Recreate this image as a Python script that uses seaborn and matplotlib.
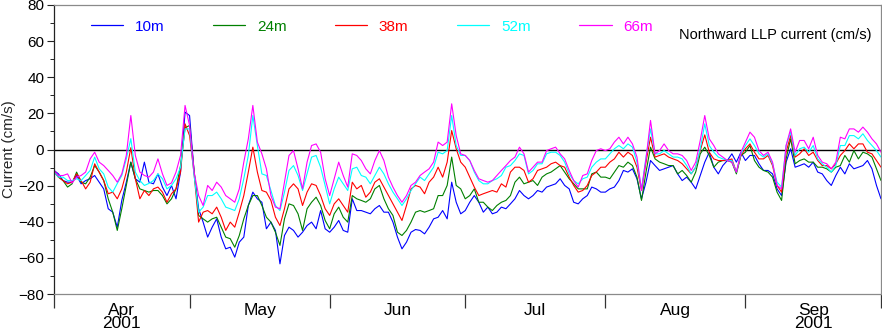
import numpy as np
import pandas as pd
import matplotlib
matplotlib.use("Agg")
import matplotlib.pyplot as plt
import matplotlib.dates as mdates
from matplotlib.ticker import MultipleLocator, FixedLocator, NullFormatter, FixedFormatter
import seaborn as sns

# Daily low-passed northward current (cm/s), 1 Apr 2001 .. 1 Oct 2001
dates = pd.date_range("2001-04-01", "2001-10-01", freq="D")

v10 = [
    # Apr
    -11.6, -13.5, -17.2, -18.1, -18.1, -14.4, -19.0, -17.2, -16.2, -14.4,
    -18.1, -21.8, -32.8, -34.7, -43.0, -28.2, -18.1, -7.0, -16.2, -18.1,
    -7.0, -18.1, -19.0, -13.5, -20.8, -25.5, -19.9, -27.3, -12.5, 20.7,
    # May
    18.8, -12.5, -32.8, -40.2, -48.5, -43.0, -38.4, -48.5, -55.0, -54.1,
    -59.6, -51.3, -48.5, -31.0, -23.6, -27.3, -29.2, -43.9, -40.2, -44.8,
    -63.3, -47.6, -43.0, -44.8, -48.5, -45.8, -42.1, -40.2, -43.9, -33.8, -43.9,
    # Jun
    -45.8, -43.0, -39.3, -44.8, -45.8, -27.3, -33.8, -33.8, -34.7, -35.6,
    -32.8, -31.0, -34.7, -34.7, -40.2, -48.5, -55.0, -51.3, -45.8, -44.3,
    -44.8, -46.7, -43.0, -38.4, -37.5, -33.8, -38.4, -18.1, -29.2, -35.6,
    # Jul
    -33.8, -29.2, -25.5, -29.2, -34.7, -31.9, -35.6, -34.7, -31.9, -32.8,
    -30.1, -27.3, -22.7, -25.5, -27.3, -25.5, -22.7, -23.6, -20.8, -19.9,
    -19.0, -16.2, -19.9, -21.8, -29.2, -30.1, -27.3, -25.5, -20.8, -21.8, -23.6,
    # Aug
    -23.6, -21.8, -20.8, -17.2, -11.6, -12.5, -10.7, -16.2, -27.3, -18.1,
    -6.1, -8.9, -11.6, -10.7, -9.8, -8.9, -13.5, -17.2, -15.3, -18.1,
    -21.8, -14.4, -7.0, -1.5, -9.8, -13.5, -8.9, -6.1, -2.4, -7.0, -1.5,
    # Sep + 1 Oct
    -6.1, -3.3, -3.3, -7.9, -11.6, -11.6, -13.5, -21.8, -25.5, -7.0,
    0.4, -9.8, -8.9, -7.9, -9.8, -7.0, -12.5, -13.5, -17.2, -19.9,
    -14.4, -9.8, -13.5, -7.9, -10.7, -9.8, -8.9, -6.1, -10.7, -19.9, -27.3,
]

v24 = [
    -11.6, -15.3, -17.2, -20.8, -19.0, -12.5, -18.1, -19.0, -15.3, -8.9,
    -12.5, -17.2, -27.3, -34.7, -44.8, -32.8, -19.9, -7.0, -16.2, -21.8,
    -22.7, -23.6, -22.7, -22.7, -25.5, -30.1, -27.3, -21.8, -8.9, 12.0,
    13.3, -11.6, -36.5, -38.4, -40.2, -38.4, -37.5, -43.0, -48.5, -49.4,
    -54.1, -47.6, -38.4, -31.0, -25.5, -25.5, -31.0, -37.5, -40.2, -45.8,
    -53.1, -38.4, -30.1, -31.0, -35.6, -44.8, -32.8, -29.2, -26.4, -31.0, -39.3,
    -43.9, -35.6, -31.9, -37.5, -40.2, -25.5, -27.3, -28.2, -29.2, -27.3,
    -21.8, -19.9, -27.3, -32.8, -36.5, -45.8, -47.6, -44.8, -40.2, -34.7,
    -33.8, -34.7, -33.8, -32.8, -25.5, -25.5, -19.9, -4.2, -19.9, -21.8,
    -27.3, -25.5, -21.8, -29.2, -29.2, -31.9, -33.8, -31.0, -29.2, -28.2,
    -25.5, -18.1, -15.3, -19.0, -18.1, -17.2, -19.9, -15.3, -13.5, -12.5,
    -10.7, -8.9, -12.5, -16.2, -19.0, -21.8, -21.8, -21.8, -13.5, -12.5, -15.3,
    -15.3, -16.2, -12.5, -8.9, -9.8, -7.0, -8.9, -15.3, -28.2, -12.5,
    1.3, -5.2, -7.0, -7.9, -8.9, -8.9, -13.5, -11.6, -14.4, -18.1,
    -12.5, -2.4, 1.3, -3.3, -9.8, -7.0, -6.1, -6.1, -7.0, -13.5, -3.3,
    -1.5, 2.2, -6.1, -9.8, -11.6, -12.5, -15.3, -23.6, -28.2, -5.2,
    5.9, -7.9, -6.1, -5.2, -7.0, -7.0, -9.8, -9.8, -10.7, -12.5,
    -9.8, -8.9, -3.3, -7.0, -0.6, -5.2, -1.5, -2.4, -4.2, -10.7, -17.2,
]

v38 = [
    -12.5, -15.3, -17.2, -19.0, -18.1, -13.5, -17.2, -21.8, -18.1, -7.9,
    -12.5, -17.2, -24.5, -23.6, -27.3, -21.8, -12.5, 1.0, -16.2, -27.3,
    -22.7, -25.5, -21.8, -20.8, -23.6, -29.2, -24.5, -21.8, -12.5, 14.2,
    7.7, -13.5, -40.2, -34.7, -33.8, -35.6, -31.9, -37.5, -44.8, -40.2,
    -43.0, -34.7, -25.5, -12.5, 1.3, -12.5, -22.7, -23.6, -28.2, -37.5,
    -42.1, -32.8, -21.8, -19.0, -21.8, -31.0, -23.6, -19.0, -19.9, -25.5, -32.8,
    -36.5, -30.1, -27.3, -31.0, -34.7, -18.1, -21.8, -19.9, -26.4, -23.6,
    -18.1, -16.2, -20.8, -25.5, -30.1, -34.7, -39.3, -31.0, -21.8, -19.9,
    -20.8, -24.5, -18.1, -15.3, -9.8, -15.3, -7.0, 10.5, 0.4, -7.0,
    -9.8, -15.3, -20.8, -25.5, -24.5, -23.6, -22.7, -23.6, -19.0, -20.8,
    -12.5, -9.8, -9.8, -11.6, -18.1, -16.2, -11.6, -10.7, -9.8, -7.9,
    -7.0, -8.9, -9.8, -15.3, -19.9, -23.6, -22.7, -19.9, -14.4, -12.5, -9.8,
    -9.8, -7.0, -5.2, -1.5, -4.2, -1.5, -3.3, -9.8, -22.7, -7.0,
    6.8, -4.2, -3.3, -2.4, -4.2, -5.2, -6.1, -7.9, -10.7, -13.5,
    -9.8, -0.6, 8.1, -1.5, -5.2, -6.1, -6.1, -6.1, -5.2, -12.5, -3.3,
    0.4, 3.1, -1.5, -5.2, -5.2, -3.3, -8.9, -19.9, -23.6, -1.5,
    7.7, -4.2, -2.4, 0.4, -3.3, -1.5, -6.1, -8.9, -8.9, -10.7,
    -7.9, -3.3, -0.6, 3.1, 0.4, 3.1, 3.1, -1.5, -2.4, -6.1, -9.8,
]

v52 = [
    -12.5, -15.3, -15.3, -17.2, -17.2, -16.2, -17.2, -14.4, -11.6, -4.2,
    -10.7, -13.5, -20.8, -23.6, -18.8, -14.4, -5.2, 6.0, -12.5, -17.2,
    -19.9, -18.8, -17.2, -13.5, -16.2, -21.8, -19.9, -16.2, -9.8, 11.4,
    11.4, -14.4, -34.7, -31.9, -25.5, -25.5, -23.6, -27.3, -31.9, -32.8,
    -33.8, -27.3, -16.2, -3.3, 18.8, 2.2, -13.5, -14.4, -22.7, -31.0,
    -33.8, -23.6, -11.6, -8.9, -14.4, -22.7, -13.5, -4.2, -3.3, -9.8, -19.9,
    -30.1, -21.8, -15.3, -19.0, -22.7, -10.7, -9.8, -14.4, -15.3, -19.0,
    -14.4, -9.8, -13.5, -19.0, -23.6, -27.3, -31.0, -27.3, -22.7, -19.0,
    -15.3, -17.2, -13.5, -9.8, -1.5, -2.4, -0.6, 18.8, 2.2, -3.3,
    -3.3, -6.1, -12.5, -17.2, -19.0, -19.0, -17.2, -16.2, -14.4, -9.8,
    -8.9, -6.1, -2.4, -3.3, -13.5, -11.6, -7.9, -7.9, -2.4, -1.5,
    -1.5, -3.3, -7.0, -13.5, -17.2, -19.0, -16.2, -15.3, -9.8, -7.0, -5.2,
    -5.2, -2.4, 0.4, 2.2, 0.4, 3.1, 1.3, -7.0, -21.8, -4.2,
    11.4, -2.4, -2.4, -0.6, -2.4, -4.2, -4.2, -5.2, -8.9, -13.5,
    -9.8, 0.4, 14.2, 2.2, -1.5, -4.2, -5.2, -6.1, -6.1, -12.5, -2.4,
    2.2, 5.9, 2.2, -2.4, -4.2, -2.4, -7.9, -18.1, -20.8, 2.2,
    9.6, -3.3, 0.4, 1.3, -1.5, 2.2, -5.2, -7.9, -9.8, -12.5,
    -8.9, 2.2, 2.2, 7.7, 7.7, 5.9, 8.7, 5.0, 2.2, -0.6, -4.2,
]

v66 = [
    -11.6, -14.4, -14.4, -13.5, -18.5, -15.3, -14.4, -12.5, -5.2, -1.5,
    -7.0, -8.9, -11.6, -14.4, -18.1, -13.5, -3.3, 18.8, -3.3, -12.5,
    -14.4, -15.3, -12.5, -5.2, -13.5, -19.9, -18.5, -12.5, -3.3, 24.4,
    13.3, -12.5, -25.5, -31.0, -19.9, -22.7, -18.1, -20.8, -25.5, -27.3,
    -29.2, -21.8, -7.0, 5.9, 24.4, 4.1, -2.4, -10.7, -25.5, -31.9,
    -32.8, -18.1, -3.3, -0.6, -10.7, -21.8, -7.0, 2.2, 3.1, -1.5, -16.2,
    -25.5, -16.2, -7.0, -14.4, -20.8, -2.4, -3.3, -6.1, -10.7, -13.5,
    -6.1, -0.6, -6.1, -15.3, -20.8, -25.5, -29.2, -25.5, -19.9, -18.1,
    -14.4, -12.5, -10.7, -7.0, 4.1, 2.2, 4.1, 25.3, 7.7, -2.4,
    -3.3, -6.1, -11.6, -16.2, -17.2, -18.1, -17.2, -14.4, -11.6, -8.9,
    -6.1, -4.2, 1.3, -2.4, -12.5, -9.8, -7.0, -7.0, -0.6, 0.4,
    1.3, -2.4, -5.2, -11.6, -17.2, -20.8, -14.4, -13.5, -6.1, -0.6, 0.4,
    -0.6, 0.4, 4.1, 6.8, 3.1, 6.8, 3.1, -4.2, -22.7, -5.2,
    16.1, -2.4, -0.6, 3.1, -0.6, -2.4, -2.4, -3.3, -6.1, -11.6,
    -7.0, 5.0, 18.8, 5.9, 2.2, -2.4, -4.2, -6.1, -7.0, -12.5, -1.5,
    4.1, 9.6, 6.8, -0.6, -3.3, -1.5, -7.0, -19.9, -21.8, 2.2,
    11.4, -1.5, 5.0, 5.0, 0.4, 6.8, -3.3, -7.0, -7.9, -10.7,
    -7.0, 6.8, 5.9, 11.4, 11.4, 9.6, 12.4, 9.6, 5.9, 3.1, -1.5,
]

depths = ["10m", "24m", "38m", "52m", "66m"]
colors = ["#0000ff", "#008000", "#ff0000", "#00ffff", "#ff00ff"]
month_names = ["Apr\n2001", "May", "Jun", "Jul", "Aug", "Sep\n2001"]

frames = [pd.DataFrame({"date": dates, "current": vals, "depth": d})
          for d, vals in zip(depths, [v10, v24, v38, v52, v66])]
df = pd.concat(frames, ignore_index=True)

sns.set_theme(style="ticks")
plt.rcParams["font.family"] = ["Liberation Sans", "DejaVu Sans"]

fig = plt.figure(figsize=(8.82, 3.36), dpi=100)
ax = fig.add_axes([54 / 882, 1 - 294 / 336, 827 / 882, 289 / 336])

sns.lineplot(data=df, x="date", y="current", hue="depth", hue_order=depths,
             palette=colors, linewidth=0.8, ax=ax, legend=True)

ax.axhline(0, color="black", linewidth=1.0, zorder=0.5)

ax.set_ylim(-80, 80)
ax.set_xlim(dates[0], dates[-1])
ax.set_yticks(np.arange(-80, 81, 20))
ax.yaxis.set_minor_locator(MultipleLocator(10))
ax.tick_params(axis="y", which="major", length=5, width=0.8, labelsize=11,
               direction="out", pad=2, colors="#222222", labelcolor="black")
ax.tick_params(axis="y", which="minor", length=3.2, width=0.7,
               direction="out", colors="#222222")

# month boundaries as long ticks, month names centred between them
month_starts = pd.date_range("2001-04-01", "2001-10-01", freq="MS")
mids = [a + (b - a) / 2 for a, b in zip(month_starts[:-1], month_starts[1:])]
ax.xaxis.set_major_locator(FixedLocator(mdates.date2num(month_starts)))
ax.xaxis.set_major_formatter(NullFormatter())
ax.xaxis.set_minor_locator(FixedLocator(mdates.date2num(mids)))
ax.xaxis.set_minor_formatter(FixedFormatter(month_names))
ax.tick_params(axis="x", which="major", length=10, width=0.9,
               direction="out", colors="#333333")
ax.tick_params(axis="x", which="minor", length=0, labelsize=12.5, pad=6.5,
               labelcolor="black")
for lab in ax.get_xticklabels(minor=True):
    lab.set_linespacing(0.86)

for side in ["top", "right", "bottom"]:
    ax.spines[side].set_color("#8a8a8a")
    ax.spines[side].set_linewidth(0.9)
ax.spines["left"].set_color("#222222")
ax.spines["left"].set_linewidth(0.9)

ax.set_xlabel("")
ax.set_ylabel("Current (cm/s)", fontsize=11)
ax.yaxis.set_label_coords(-0.046, 0.5)

leg = ax.legend(loc="center left", bbox_to_anchor=(0.045, 0.925), ncol=5,
                frameon=False, handlelength=2.1, handletextpad=0.75,
                columnspacing=3.2, labelcolor="linecolor", fontsize=11,
                borderaxespad=0, borderpad=0)
for line in leg.get_lines():
    line.set_linewidth(0.9)

ax.text(0.988, 0.897, "Northward LLP current (cm/s)", transform=ax.transAxes,
        ha="right", va="center", fontsize=10.5, color="black")

fig.savefig("out.png", dpi=100)
